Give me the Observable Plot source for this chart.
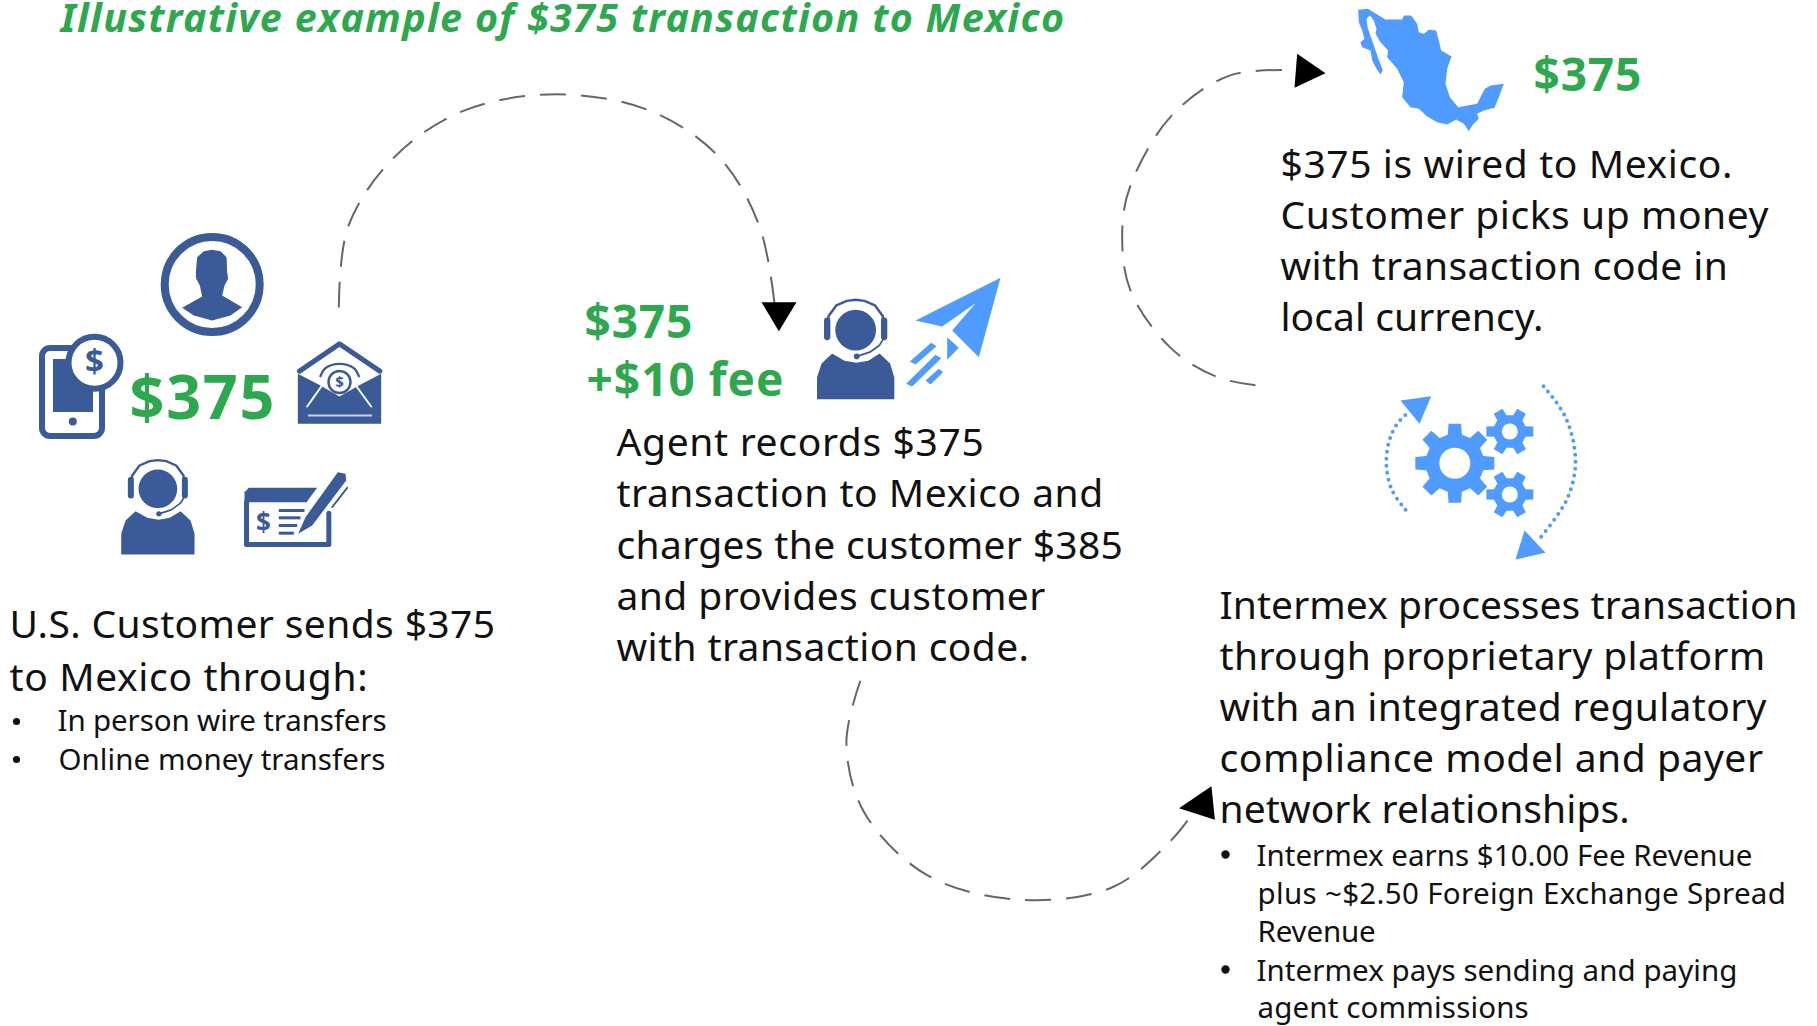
<!DOCTYPE html>
<html><head><meta charset="utf-8">
<script src="https://cdn.jsdelivr.net/npm/d3@7"></script>
<script src="https://cdn.jsdelivr.net/npm/@observablehq/plot@0.6"></script>
<style>
html,body{margin:0;padding:0;background:#fff;overflow:hidden}
svg{display:block}
</style></head><body><div id="chart"></div>
<script>
// ---- text content
const titleText = ["Illustrative example of $375 transaction to Mexico"];
const sentAmount = ["$375"];
const agentAmounts = ["$375", "+$10 fee"];
const wiredAmount = ["$375"];
const step1Lines = ["U.S. Customer sends $375", "to Mexico through:"];
const step1Bullets = ["In person wire transfers", "Online money transfers"];
const step2Lines = ["Agent records $375", "transaction to Mexico and", "charges the customer $385", "and provides customer", "with transaction code."];
const step3Lines = ["$375 is wired to Mexico.", "Customer picks up money", "with transaction code in", "local currency."];
const step4Lines = ["Intermex processes transaction", "through proprietary platform", "with an integrated regulatory", "compliance model and payer", "network relationships."];
const step4Bullets = ["Intermex earns $10.00 Fee Revenue", "plus ~$2.50 Foreign Exchange Spread", "Revenue", "Intermex pays sending and paying", "agent commissions"];

// ---- measured line widths in the reference, by text block (layout only)
const K=1817/1568;
const lineWidths={
  title:[866], sent:[125], agent:[93,170], wired:[93],
  s1:[419,309], s1b:[284,282],
  s2:[317,420,437,370,356],
  s3:[390,421,386,227],
  s4:[499,471,472,469,354],
  s4b:[428,456,102,415,234]
};

// ---- palette & fonts
const GREEN="#2ea84f", DARK="#3a5a98", LIGHT="#4f9bff", INK="#111";
const FONT="'Noto Sans','Open Sans',sans-serif";

// ---- drawing helpers (diagram furniture; pixel space of the page)
const pts = (a,ox=0,oy=0,k=1)=>a.map(([x,y])=>({x:ox+x*k,y:oy+y*k}));
const X=d=>d.x, Y=d=>d.y;
const poly=(p,fill)=>Plot.line(p,{x:X,y:Y,fill,stroke:"none",curve:"linear-closed"});
const stroke=(p,color,w,extra={})=>Plot.line(p,{x:X,y:Y,stroke:color,strokeWidth:w,strokeLinecap:"round",strokeLinejoin:"round",...extra});
const disc=(x,y,r,fill,st="none",w=0)=>Plot.dot([{x,y}],{x:X,y:Y,r,fill,stroke:st,strokeWidth:w});
const txt=(lines,x,ys,size,fill,cls,extra={})=>Plot.text(lines,{x:(d,i)=>Array.isArray(x)?x[i]:x,y:(d,i)=>ys[i],text:d=>d,textAnchor:"start",lineAnchor:"bottom",fontSize:size,fill,fontFamily:FONT,className:cls,...extra});
const glyph=(x,y,size,fill="#3a5a98")=>Plot.text(["$"],{x:()=>x,y:()=>y,text:d=>d,textAnchor:"middle",lineAnchor:"middle",fontSize:size,fontWeight:700,fill,fontFamily:FONT});

function gear(cx,cy,R,r,teeth,rot,ox,oy,k){
  const a=[];const n=teeth;
  for(let i=0;i<n;i++){
    const t=rot+i*2*Math.PI/n, w=Math.PI/n;
    [[r,-w*.62],[R,-w*.40],[R,w*.40],[r,w*.62]].forEach(([q,o])=>a.push([cx+q*Math.cos(t+o),cy+q*Math.sin(t+o)]));
  }
  return pts(a,ox,oy,k);
}
function headset(ox,oy,k){
  const P=a=>pts(a,ox,oy,k);
  return [
    poly(P([[0,1062],[0,1000],[13,960],[43,932],[78,952],[112,958],[146,952],[178,932],[208,960],[220,1000],[220,1062]]),DARK),
    disc(ox+110*k,oy+865*k,58*k,DARK),
    stroke(P([[31,860],[33,825],[55,795],[85,782],[110,779],[135,782],[165,795],[187,825],[189,860]]),DARK,7*k),
    stroke(P([[29,838],[29,885]]),DARK,18*k),
    stroke(P([[191,838],[191,885]]),DARK,18*k),
    stroke(P([[113,940],[150,928],[178,908],[190,888]]),DARK,5*k),
    disc(ox+113*k,oy+940*k,8*k,DARK)
  ];
}

// zoom-frame → page helpers
const Z1=a=>pts(a,0,200,1/3), Z2=a=>pts(a,560,260,1/3), Z3=a=>pts(a,1290,0,1/3), Z4=a=>pts(a,1360,370,1/3);
const S=a=>pts(a,0,0,K);
const ARC={stroke:"#666",strokeWidth:2,strokeDasharray:"26 15",curve:"catmull-rom",strokeLinecap:"butt"};

const marks=[
  // dashed connectors
  Plot.line(S([[292,265],[300,195],[340,135],[400,95],[480,81],[560,95],[620,135],[655,195],[668,262]]),{x:X,y:Y,...ARC}),
  Plot.line(S([[1083,332],[1050,325],[1010,300],[975,250],[968,200],[975,160],[1010,100],[1060,65],[1115,60]]),{x:X,y:Y,...ARC}),
  Plot.line(S([[742,587],[730,640],[745,700],[800,755],[880,776],[960,765],[1010,725],[1030,700]]),{x:X,y:Y,...ARC}),
  poly(Z2([[603,125],[708,125],[655,212]]),"#000"),
  poly(Z3([[20,160],[105,218],[12,262]]),"#000"),
  poly(S([[1017,697],[1045,678],[1048,707]]),"#000"),

  // person in ring
  disc(211.7,284,47.5,"#fff",DARK,8),
  poly(Z1([[590,170],[610,152],[635,148],[660,152],[678,170],[680,215],[683,235],[672,255],[665,285],[725,320],[690,345],[635,360],[580,345],[545,322],[605,288],[598,255],[587,235],[586,215]]),DARK),

  // phone
  Plot.rect([{}],{x1:()=>42,x2:()=>102,y1:()=>348,y2:()=>436,rx:8,fill:"#fff",stroke:DARK,strokeWidth:6}),
  Plot.rect([{}],{x1:()=>53,x2:()=>93,y1:()=>359,y2:()=>412,fill:DARK}),
  disc(72.3,421,4,DARK),
  disc(94,362.3,26,"#fff",DARK,6),
  glyph(94,362.3,33),

  // envelope
  stroke(Z1([[897,512],[1017,430],[1138,512]]),DARK,5),
  poly(Z1([[892,520],[960,555],[1017,588],[1075,555],[1142,520],[1142,670],[892,670]]),DARK),
  stroke(Z1([[920,618],[975,540]]),"#fff",2),
  stroke(Z1([[1112,618],[1055,540]]),"#fff",2),
  stroke(Z1([[925,645],[1112,645]]),"#c9d5ea",2),
  stroke(Z1([[960,527],[975,503],[1017,490],[1060,503],[1075,527]]),DARK,2.4,{curve:"catmull-rom"}),
  disc(339,381.5,11,"#fff",DARK,2.5),
  glyph(339,381.5,15),

  // headset agents
  ...headset(120.7,200,1/3),
  ...headset(816.5,25.5,0.3515),

  // cheque and pen
  poly(Z1([[745,862],[950,862],[918,905],[732,905],[732,875]]),DARK),
  stroke(Z1([[738,905],[738,1032],[985,1032],[985,938]]),DARK,5),
  stroke(Z1([[835,930],[912,930]]),DARK,3,{strokeLinecap:"butt"}),
  stroke(Z1([[835,952],[900,952]]),DARK,3,{strokeLinecap:"butt"}),
  stroke(Z1([[835,975],[890,975]]),DARK,3,{strokeLinecap:"butt"}),
  stroke(Z1([[835,998],[880,998]]),DARK,3,{strokeLinecap:"butt"}),
  glyph(263,523,26),
  poly(Z1([[893,1000],[915,950],[1012,815],[1035,820],[1037,840],[935,975]]),DARK),
  stroke(Z1([[1040,862],[995,920]]),DARK,1.8),

  // paper plane
  poly(Z2([[1320,52],[1065,180],[1145,198],[1245,128],[1175,210],[1255,290]]),LIGHT),
  poly(Z2([[1160,230],[1195,262],[1160,298]]),LIGHT),
  poly(Z2([[1048,303],[1112,247],[1128,257],[1065,312]]),LIGHT),
  poly(Z2([[1037,370],[1125,283],[1142,293],[1055,378]]),LIGHT),
  poly(Z2([[1095,360],[1135,325],[1148,335],[1110,372]]),LIGHT),

  // Mexico
  poly(Z3([[203,28],[232,25],[285,57],[335,57],[340,45],[362,45],[380,70],[385,95],[400,100],[415,88],[437,90],[445,120],[452,150],[483,168],[470,205],[465,250],[478,290],[503,320],[560,310],[583,265],[600,255],[640,250],[625,290],[612,322],[580,330],[560,340],[565,355],[545,375],[535,392],[520,370],[497,357],[470,372],[440,365],[410,348],[385,325],[360,320],[335,290],[340,245],[320,205],[290,170],[293,150],[270,125],[255,100],[258,85],[250,60],[238,45],[228,55],[232,85],[245,120],[262,170],[277,210],[270,222],[258,205],[245,180],[240,150],[215,140],[210,125],[222,115],[215,90],[205,65]]),LIGHT),

  // gears
  poly(gear(283,278,120,88,8,-Math.PI/2,1360,370,1/3),LIGHT),
  disc(1360+283/3,370+278/3,15.5,"#fff"),
  poly(gear(448,183,72,50,6,0,1360,370,1/3),LIGHT),
  disc(1360+448/3,370+183/3,8,"#fff"),
  poly(gear(448,372,72,50,6,0,1360,370,1/3),LIGHT),
  disc(1360+448/3,370+372/3,8,"#fff"),
  stroke(Z4([[135,418],[95,360],[78,290],[85,215],[110,160],[150,120]]),LIGHT,4,{curve:"catmull-rom",strokeDasharray:"0 7"}),
  stroke(Z4([[549,47],[615,140],[645,270],[620,385],[537,505]]),LIGHT,4,{curve:"catmull-rom",strokeDasharray:"0 7"}),
  poly(Z4([[120,90],[212,77],[177,160]]),LIGHT),
  poly(Z4([[492,480],[555,547],[465,567]]),LIGHT),

  // headline and amounts
  txt(titleText,60,[31],39.5,GREEN,"title",{fontWeight:700,fontStyle:"italic"}),
  txt(sentAmount,129,[418],61,GREEN,"sent",{fontWeight:700}),
  txt(agentAmounts,[584,586],[337,395],46,GREEN,"agent",{fontWeight:700}),
  txt(wiredAmount,1533,[90],46,GREEN,"wired",{fontWeight:700}),

  // body copy
  txt(step1Lines,9,[637,690],39,INK,"s1"),
  txt(step1Bullets,[57,58],[730,769],29.5,INK,"s1b"),
  txt(step2Lines,616,[455,506,558,609,660],39,INK,"s2"),
  txt(step3Lines,1280,[177,228,279,330],39,INK,"s3"),
  txt(step4Lines,1219,[618,669,720,771,822],39,INK,"s4"),
  txt(step4Bullets,[1256,1257,1257,1256,1257],[865,903,941,980,1017],29.5,INK,"s4b"),

  // bullets
  disc(16,721,3.6,INK), disc(16,759,3.6,INK),
  disc(1225,854,4.2,INK), disc(1225,969,4.2,INK)
];

const chart=Plot.plot({
  width:1817,height:1026,margin:0,
  x:{domain:[0,1817],range:[0,1817],axis:null},
  y:{domain:[0,1026],range:[0,1026],axis:null},
  style:{background:"#fff",maxWidth:"none"},
  marks
});
document.getElementById("chart").append(chart);
// fit each text line to the width it has in the reference
for(const [cls,ws] of Object.entries(lineWidths)){
  chart.querySelectorAll(`.${cls} text, text.${cls}`).forEach((t,i)=>{
    if(ws[i]){t.setAttribute("textLength",(ws[i]*K).toFixed(1));t.setAttribute("lengthAdjust","spacing");}
  });
}
</script></body></html>
